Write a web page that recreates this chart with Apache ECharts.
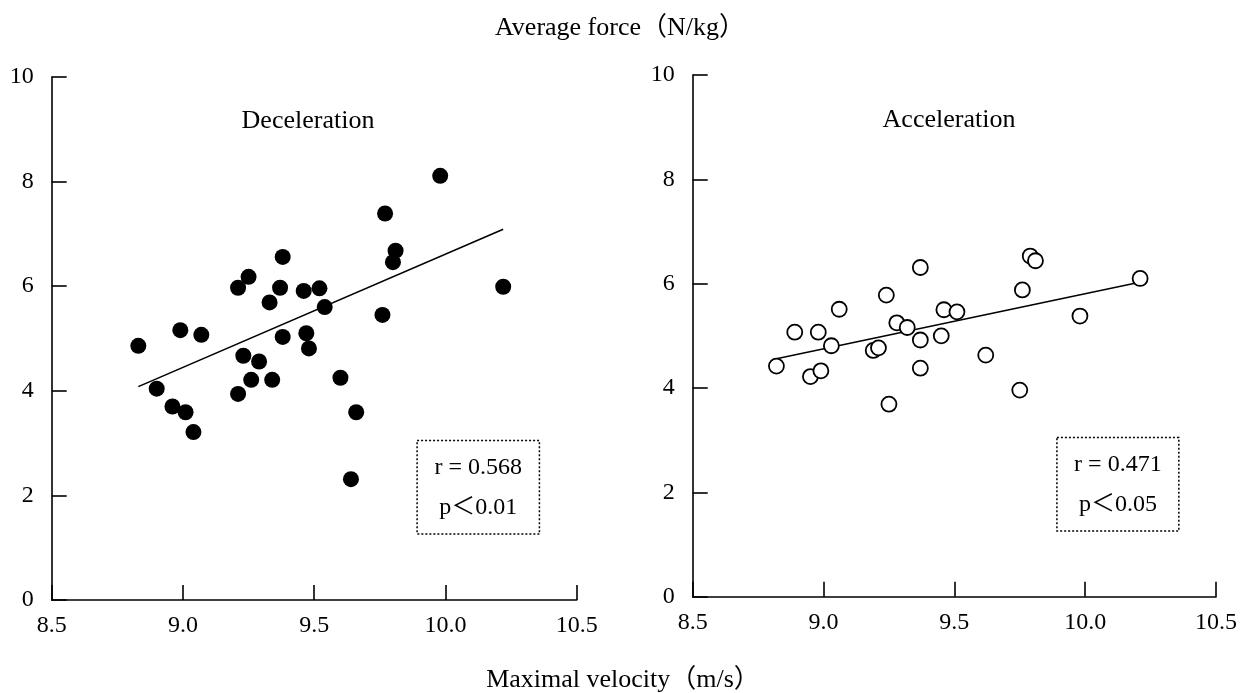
<!DOCTYPE html>
<html>
<head>
<meta charset="utf-8">
<script src="https://cdn.jsdelivr.net/npm/echarts@6/dist/echarts.min.js"></script>
<style>
html,body{margin:0;padding:0;background:#fff;}
#chart{width:1240px;height:693px;}
</style>
</head>
<body>
<div id="chart"></div>
<script>
// ---- data ----
const xTickLabels = ['8.5', '9.0', '9.5', '10.0', '10.5'];
const yTickLabels = ['0', '2', '4', '6', '8', '10'];

const decelVelocity = [9.98, 9.77, 9.81, 9.80, 9.38, 9.25, 9.21, 9.37, 9.46, 9.52, 9.33, 9.54, 9.76, 10.22,
  8.83, 8.99, 9.07, 9.38, 9.47, 9.48, 9.23, 9.29, 9.26, 9.34, 9.21, 9.60, 8.90, 8.96, 9.01, 9.04, 9.66, 9.64];
const decelForce = [8.11, 7.39, 6.68, 6.46, 6.56, 6.18, 5.97, 5.97, 5.91, 5.96, 5.69, 5.60, 5.45, 5.99,
  4.86, 5.16, 5.07, 5.03, 5.10, 4.81, 4.67, 4.56, 4.21, 4.21, 3.94, 4.25, 4.04, 3.70, 3.59, 3.21, 3.59, 2.31];

const accelVelocity = [9.79, 9.81, 9.37, 10.21, 9.76, 9.24, 9.06, 9.46, 9.51, 9.98, 9.28, 9.32,
  8.89, 8.98, 9.03, 9.19, 9.21, 9.37, 9.45, 8.82, 8.95, 8.99, 9.37, 9.62, 9.75, 9.25];
const accelForce = [6.53, 6.44, 6.31, 6.10, 5.88, 5.78, 5.51, 5.50, 5.46, 5.38, 5.25, 5.16,
  5.07, 5.07, 4.81, 4.72, 4.77, 4.92, 5.00, 4.42, 4.22, 4.33, 4.38, 4.63, 3.96, 3.69];

const decelFitX = [8.83, 10.22];
const decelFitY = [4.08, 7.09];
const accelFitX = [8.82, 10.19];
const accelFitY = [4.56, 6.01];

const decelStats = ['r = 0.568', 'p\uFF1C0.01'];
const accelStats = ['r = 0.471', 'p\uFF1C0.05'];

const panelNames = ['Deceleration', 'Acceleration'];
const yTitle = 'Average force\uFF08N/kg\uFF09';
const xTitle = 'Maximal velocity\uFF08m/s\uFF09';

// ---- build ----
const zip = (a, b) => a.map((v, i) => [v, b[i]]);
const FONT = "'Liberation Serif', 'Noto Sans CJK JP', serif";

function xAxisCfg(gi) {
  return {
    gridIndex: gi, type: 'value', min: 8.5, max: 10.5, interval: 0.5,
    axisLine: { show: true, onZero: false, lineStyle: { color: '#000', width: 1.6 } },
    axisTick: { show: true, inside: true, length: 15, lineStyle: { color: '#000', width: 1.6 } },
    splitLine: { show: false },
    axisLabel: {
      color: '#000', fontSize: 24, fontFamily: FONT, margin: 14,
      formatter: v => xTickLabels[Math.round((v - 8.5) / 0.5)] || ''
    }
  };
}
function yAxisCfg(gi) {
  return {
    gridIndex: gi, type: 'value', min: 0, max: 10, interval: 2,
    axisLine: { show: true, lineStyle: { color: '#000', width: 1.6 } },
    axisTick: { show: true, inside: true, length: 15, lineStyle: { color: '#000', width: 1.6 } },
    splitLine: { show: false },
    axisLabel: {
      color: '#000', fontSize: 24, fontFamily: FONT, margin: 18,
      formatter: v => yTickLabels[Math.round(v / 2)] || ''
    }
  };
}
function statsArea(lines) {
  return {
    silent: true,
    itemStyle: { color: 'rgba(0,0,0,0)', borderColor: '#000', borderWidth: 1.5, borderType: [2, 2] },
    label: {
      show: true, position: 'inside', color: '#000', fontSize: 24, fontFamily: FONT,
      lineHeight: 40, formatter: lines.join('\n')
    },
    emphasis: { disabled: true },
    data: [[{ xAxis: 9.892, yAxis: 3.05 }, { xAxis: 10.358, yAxis: 1.26 }]]
  };
}

const chart = echarts.init(document.getElementById('chart'), null, { renderer: 'canvas' });
chart.setOption({
  backgroundColor: '#fff',
  animation: false,
  title: [
    { text: yTitle, left: 615, top: 10, textAlign: 'center',
      textStyle: { fontSize: 26, fontWeight: 'normal', color: '#000', fontFamily: FONT } },
    { text: xTitle, left: 618, top: 662, textAlign: 'center',
      textStyle: { fontSize: 26, fontWeight: 'normal', color: '#000', fontFamily: FONT } },
    { text: panelNames[0], left: 303, top: 103, textAlign: 'center',
      textStyle: { fontSize: 26, fontWeight: 'normal', color: '#000', fontFamily: FONT } },
    { text: panelNames[1], left: 944, top: 102, textAlign: 'center',
      textStyle: { fontSize: 26, fontWeight: 'normal', color: '#000', fontFamily: FONT } }
  ],
  grid: [
    { left: 51.7, top: 77, width: 525, height: 523, containLabel: false },
    { left: 692.7, top: 75, width: 524, height: 521.7, containLabel: false }
  ],
  xAxis: [xAxisCfg(0), xAxisCfg(1)],
  yAxis: [yAxisCfg(0), yAxisCfg(1)],
  series: [
    { type: 'line', xAxisIndex: 0, yAxisIndex: 0, data: zip(decelFitX, decelFitY), showSymbol: false,
      lineStyle: { color: '#000', width: 1.6 }, silent: true, z: 1 },
    { type: 'scatter', xAxisIndex: 0, yAxisIndex: 0, data: zip(decelVelocity, decelForce),
      symbol: 'circle', symbolSize: 16, itemStyle: { color: '#000', opacity: 1 }, z: 2,
      markArea: statsArea(decelStats) },
    { type: 'line', xAxisIndex: 1, yAxisIndex: 1, data: zip(accelFitX, accelFitY), showSymbol: false,
      lineStyle: { color: '#000', width: 1.6 }, silent: true, z: 1 },
    { type: 'scatter', xAxisIndex: 1, yAxisIndex: 1, data: zip(accelVelocity, accelForce),
      symbol: 'circle', symbolSize: 15,
      itemStyle: { color: '#fff', borderColor: '#000', borderWidth: 1.8, opacity: 1 }, z: 2,
      markArea: statsArea(accelStats) }
  ]
});
</script>
</body>
</html>
